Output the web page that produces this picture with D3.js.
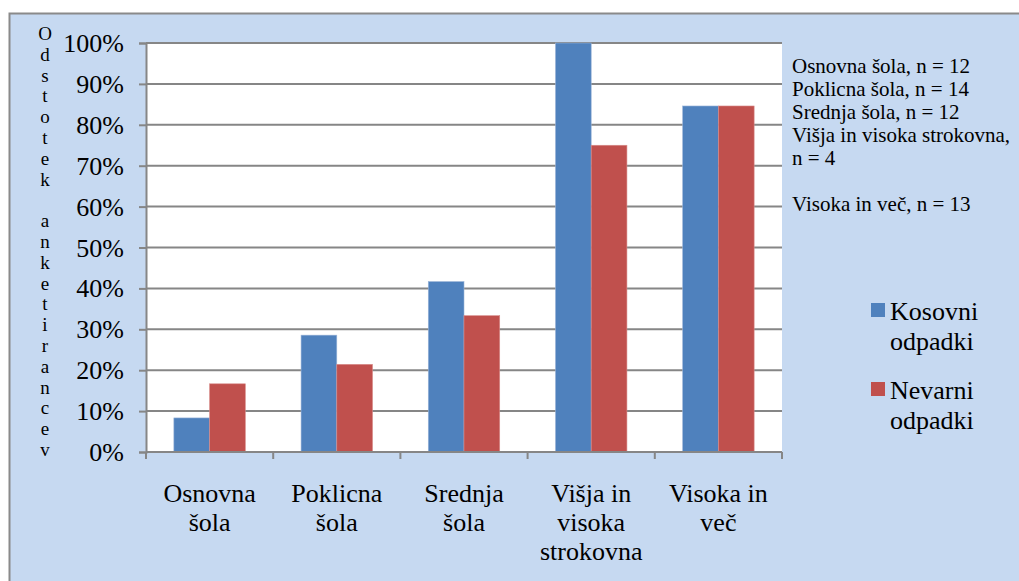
<!DOCTYPE html>
<html>
<head>
<meta charset="utf-8">
<script src="https://cdn.jsdelivr.net/npm/d3@7"></script>
</head>
<body style="margin:0">
<div id="chart"></div>
<script>
const categories = [
	['Osnovna', 'šola'],
	['Poklicna', 'šola'],
	['Srednja', 'šola'],
	['Višja in', 'visoka', 'strokovna'],
	['Visoka in', 'več']
];
const kosovni = [0.0833, 0.2857, 0.4167, 1.0, 0.846];
const nevarni = [0.1667, 0.2143, 0.3333, 0.75, 0.846];
const seriesNames = [['Kosovni', 'odpadki'], ['Nevarni', 'odpadki']];
const notes = ['Osnovna šola, n = 12', 'Poklicna šola, n = 14', 'Srednja šola, n = 12',
	'Višja in visoka strokovna,', 'n = 4', '', 'Visoka in več, n = 13'];
const yTitle = 'Odstotek anketirancev';
const yTicks = [0, 0.1, 0.2, 0.3, 0.4, 0.5, 0.6, 0.7, 0.8, 0.9, 1.0];

const width = 1019;
const height = 581;
const colors = ['#4F81BD', '#C0504D'];
const gray = '#868686';
const serif = "'Liberation Serif'";

const svg = d3.select('#chart')
	.append('svg')
	.attr('width', width)
	.attr('height', height);

const label = (parent, txt, x, y, size, anchor) =>
	parent.append('text')
		.attr('x', x)
		.attr('y', y)
		.attr('text-anchor', anchor || 'start')
		.attr('font-family', serif)
		.attr('font-size', size)
		.attr('fill', '#000')
		.text(txt);

// chart background
svg.append('rect')
	.attr('x', 9).attr('y', 13)
	.attr('width', width).attr('height', height)
	.attr('fill', '#C6D9F1');
svg.append('path')
	.attr('d', `M9.5,${height}V13.5H${width}`)
	.attr('fill', 'none')
	.attr('stroke', '#8a8a8a')
	.attr('stroke-width', 2);

const plot = { left: 146, right: 782, top: 43, bottom: 452 };

const x = d3.scaleBand()
	.domain(d3.range(categories.length))
	.range([plot.left, plot.right]);

const inner = d3.scaleBand()
	.domain([0, 1])
	.range([0, x.bandwidth()])
	.paddingInner(0)
	.paddingOuter(0.78);

const y = d3.scaleLinear()
	.domain([0, 1])
	.range([plot.bottom, plot.top]);

svg.append('rect')
	.attr('x', plot.left).attr('y', plot.top)
	.attr('width', plot.right - plot.left)
	.attr('height', plot.bottom - plot.top)
	.attr('fill', '#fff');

// gridlines
svg.append('g')
	.selectAll('line')
	.data(yTicks.slice(1))
	.join('line')
	.attr('x1', plot.left).attr('x2', plot.right)
	.attr('y1', d => y(d)).attr('y2', d => y(d))
	.attr('stroke', gray)
	.attr('stroke-width', 2);

// bars
const seriesData = [kosovni, nevarni];
seriesData.forEach((vals, si) => {
	svg.append('g')
		.selectAll('rect')
		.data(vals)
		.join('rect')
		.attr('x', (d, i) => x(i) + inner(si))
		.attr('y', d => y(d))
		.attr('width', inner.bandwidth())
		.attr('height', d => y(0) - y(d))
		.attr('fill', colors[si])
		.attr('stroke', si === 0 ? '#9ab4d8' : '#d88c8a')
		.attr('stroke-width', 0.6);
});

// y axis
const yAxis = svg.append('g')
	.attr('transform', `translate(${plot.left},0)`)
	.call(d3.axisLeft(y).tickValues(yTicks).tickSize(7).tickFormat(''));
yAxis.select('.domain').attr('stroke', gray).attr('stroke-width', 2);
yAxis.selectAll('.tick line').attr('stroke', gray).attr('stroke-width', 2);
const yLabels = svg.append('g');
const pct = d3.format('.0%');
yTicks.forEach(t => label(yLabels, pct(t), plot.left - 22, y(t) + 9, 26, 'end'));

// x axis
const xAxis = svg.append('g')
	.attr('transform', `translate(0,${plot.bottom})`);
xAxis.append('line')
	.attr('x1', plot.left).attr('x2', plot.right)
	.attr('stroke', gray).attr('stroke-width', 2);
xAxis.selectAll('line.tk')
	.data(d3.range(categories.length + 1))
	.join('line')
	.attr('class', 'tk')
	.attr('x1', d => plot.left + d * x.step())
	.attr('x2', d => plot.left + d * x.step())
	.attr('y1', 0).attr('y2', 7)
	.attr('stroke', gray).attr('stroke-width', 2);

// category labels, one text per line
const catG = svg.append('g');
categories.forEach((lines, i) => {
	lines.forEach((line, j) =>
		label(catG, line, x(i) + x.bandwidth() / 2, 502 + j * 29, 26, 'middle'));
});

// y title, letters stacked
const titleG = svg.append('g');
yTitle.split('').forEach((ch, i) => label(titleG, ch, 45, 40 + i * 20.8, 19, 'middle'));

// n notes
const notesG = svg.append('g');
notes.forEach((n, i) => label(notesG, n, 792, 73 + i * 23, 21));

// legend
const legendY = [303, 382];
const legendG = svg.append('g');
seriesNames.forEach((lines, si) => {
	legendG.append('rect')
		.attr('x', 871).attr('y', legendY[si])
		.attr('width', 14).attr('height', 14)
		.attr('fill', colors[si]);
	lines.forEach((line, j) => label(legendG, line, 890, legendY[si] + 17 + j * 30, 26));
});
</script>
</body>
</html>
